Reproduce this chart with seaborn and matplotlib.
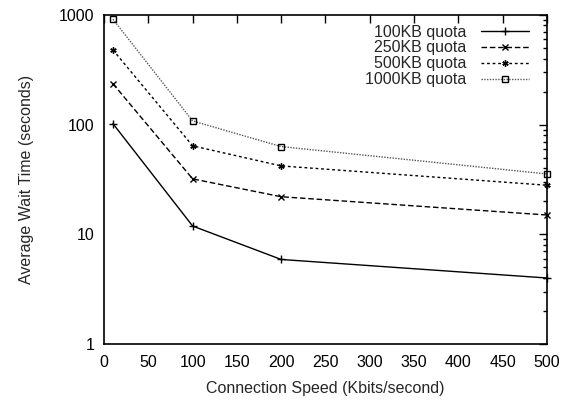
import matplotlib
matplotlib.use("Agg")
import matplotlib.pyplot as plt
import seaborn as sns
import pandas as pd
from matplotlib.ticker import LogLocator, FixedLocator, NullFormatter

speeds = [10, 100, 200, 500]
quota_100 = [102, 11.9, 5.9, 4.0]
quota_250 = [236, 32, 22, 15]
quota_500 = [479, 64, 42, 28]
quota_1000 = [912, 108, 63, 35.5]
labels = ["100KB quota", "250KB quota", "500KB quota", "1000KB quota"]
x_ticks = [0, 50, 100, 150, 200, 250, 300, 350, 400, 450, 500]
y_ticks = [1, 10, 100, 1000]

sns.set_theme(style="white")
plt.rcParams['font.family'] = ['Liberation Sans', 'DejaVu Sans']

fig = plt.figure(figsize=(5.75, 4.01), dpi=100)
ax = fig.add_axes([0.181, 0.142, 0.770, 0.821])

styles = [
    dict(marker="+", linestyle="-", color="black", markersize=6, lw=1.0),
    dict(marker="x", linestyle=(0, (4, 2)), color="black", markersize=4, lw=1.0),
    dict(marker=(6, 2, 0), linestyle=(0, (2, 2)), color="black", markersize=4.5, lw=1.0),
    dict(marker="s", linestyle=(0, (1, 1)), color="#555555", markersize=4.5, lw=1.0,
         markerfacecolor="none"),
]
series = [quota_100, quota_250, quota_500, quota_1000]
for vals, lab, st in zip(series, labels, styles):
    df = pd.DataFrame({"speed": speeds, "wait": vals})
    sns.lineplot(data=df, x="speed", y="wait", ax=ax, label=lab, clip_on=False,
                 markeredgecolor="black", markeredgewidth=1.0, zorder=3, **st)

ax.set_yscale("log")
ax.set_xlim(0, 500)
ax.set_ylim(1, 1000)
ax.xaxis.set_major_locator(FixedLocator(x_ticks))
ax.yaxis.set_major_locator(FixedLocator(y_ticks))
ax.set_yticklabels([str(v) for v in y_ticks])
ax.yaxis.set_minor_locator(LogLocator(base=10, subs=range(2, 10)))
ax.yaxis.set_minor_formatter(NullFormatter())
ax.tick_params(which="both", direction="in", top=True, right=True, colors="black", labelsize=11.5)
ax.tick_params(which="major", length=6, width=1)
ax.tick_params(which="minor", length=3, width=1)
ax.tick_params(axis="y", which="major", pad=7)
ax.tick_params(axis="x", which="major", pad=8)
for s in ax.spines.values():
    s.set_color("black")
    s.set_linewidth(1.2)
ax.set_xlabel("Connection Speed (Kbits/second)", fontsize=11.5, labelpad=8)
ax.set_ylabel("Average Wait Time (seconds)", fontsize=11.5, labelpad=18)

leg = ax.legend(loc="upper right", bbox_to_anchor=(0.984, 1.004), frameon=False,
                markerfirst=False, fontsize=11.5,
                handlelength=3.0, handletextpad=0.9, labelspacing=0.05, borderaxespad=0.3,
                borderpad=0.4)
for t in leg.get_texts():
    t.set_ha("right")

fig.savefig("out.png", dpi=100)
